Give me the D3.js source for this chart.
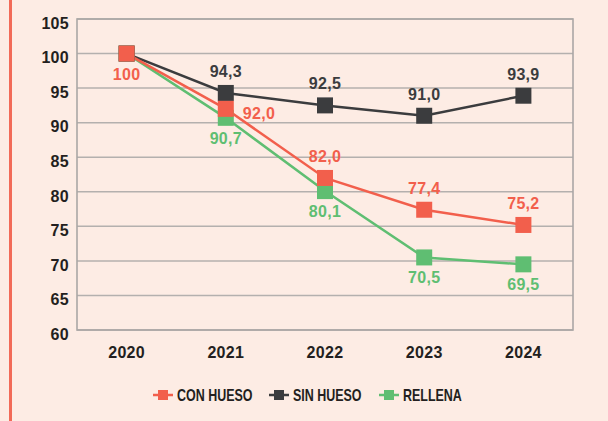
<!DOCTYPE html>
<html>
<head>
<meta charset="utf-8">
<script src="https://cdn.jsdelivr.net/npm/d3@7"></script>
<style>
  html, body { margin: 0; padding: 0; background: #fdece4; }
  svg { display: block; }
</style>
</head>
<body>
<svg width="608" height="421"></svg>
<script>
const years = ['2020', '2021', '2022', '2023', '2024'];
const conHueso = [100, 92.0, 82.0, 77.4, 75.2];
const sinHueso = [100, 94.3, 92.5, 91.0, 93.9];
const rellena = [100, 90.7, 80.1, 70.5, 69.5];
const yTicks = [60, 65, 70, 75, 80, 85, 90, 95, 100, 105];
const seriesNames = ['CON HUESO', 'SIN HUESO', 'RELLENA'];

// label placement per point (layout only)
const place = {
  'CON HUESO': ['below', 'right', 'above', 'above', 'above'],
  'SIN HUESO': ['none', 'above', 'above', 'above', 'above'],
  'RELLENA': ['none', 'below', 'below', 'below', 'below']
};

const colors = {
  'CON HUESO': '#f25f4c',
  'SIN HUESO': '#3b3c3e',
  'RELLENA': '#5fbe72'
};

const svg = d3.select('svg');
const margin = { left: 77, right: 35, top: 19, bottom: 91 };
const width = 608 - margin.left - margin.right,
      height = 421 - margin.top - margin.bottom;

// left accent line
svg.append('rect')
  .attr('x', 9).attr('y', 0)
  .attr('width', 3).attr('height', 421)
  .attr('fill', '#f26a57');

const x = d3.scaleBand().domain(years).range([0, width]);
const y = d3.scaleLinear().domain([60, 105]).range([height, 0]);

const g = svg.append('g')
  .attr('transform', `translate(${margin.left},${margin.top})`);

// grid
g.append('g')
  .selectAll('line')
  .data(yTicks)
  .enter()
  .append('line')
  .attr('x1', 0).attr('x2', width)
  .attr('y1', d => y(d)).attr('y2', d => y(d))
  .attr('stroke', '#b4b0ae')
  .attr('stroke-width', 1.5);

g.append('rect')
  .attr('width', width).attr('height', height)
  .attr('fill', 'none')
  .attr('stroke', '#aaa7a5')
  .attr('stroke-width', 1.6);

const font = '"Liberation Sans", Arial, sans-serif';

function boldText(sel, size) {
  sel.style('font-family', font)
    .style('font-weight', 'bold')
    .style('font-size', size + 'px')
    .style('letter-spacing', '0.3px');
}

// y axis
const yAxis = g.append('g').call(d3.axisLeft(y).tickValues(yTicks).tickSize(0).tickPadding(8));
yAxis.select('.domain').remove();
yAxis.selectAll('text')
  .attr('dy', '0.58em')
  .attr('fill', '#231f20')
  .call(boldText, 16);

// x axis
const xAxis = g.append('g')
  .attr('transform', `translate(0,${height})`)
  .call(d3.axisBottom(x).tickSize(0).tickPadding(17));
xAxis.select('.domain').remove();
xAxis.selectAll('text')
  .attr('fill', '#231f20')
  .call(boldText, 16);

const series = [
  { name: 'RELLENA', values: rellena },
  { name: 'SIN HUESO', values: sinHueso },
  { name: 'CON HUESO', values: conHueso }
];

const line = d3.line()
  .x((d, i) => x(years[i]) + x.bandwidth() / 2)
  .y(d => y(d));

const ms = 16;

series.forEach(s => {
  g.append('path')
    .datum(s.values)
    .attr('fill', 'none')
    .attr('stroke', colors[s.name])
    .attr('stroke-width', 2.5)
    .attr('d', line);
});

series.forEach(s => {
  g.append('g')
    .selectAll('rect')
    .data(s.values)
    .enter()
    .append('rect')
    .attr('x', (d, i) => x(years[i]) + x.bandwidth() / 2 - ms / 2)
    .attr('y', d => y(d) - ms / 2)
    .attr('width', ms).attr('height', ms)
    .attr('fill', colors[s.name]);
});

// value labels
series.forEach(s => {
  const pos = place[s.name];
  g.append('g')
    .selectAll('text')
    .data(s.values.map((v, i) => ({ v, i, p: pos[i] })).filter(d => d.p !== 'none'))
    .enter()
    .append('text')
    .attr('x', d => x(years[d.i]) + x.bandwidth() / 2 + (d.p === 'right' ? 17 : 0))
    .attr('y', d => y(d.v) + (d.p === 'above' ? -16 : d.p === 'below' ? 26 : 10))
    .attr('text-anchor', d => d.p === 'right' ? 'start' : 'middle')
    .attr('fill', colors[s.name])
    .call(boldText, 16)
    .text(d => d.v === 100 ? '100' : d3.format('.1f')(d.v).replace('.', ','));
});

// legend
const legendX = [153, 269, 379];
const legend = svg.append('g').attr('transform', 'translate(0,395)');
seriesNames.forEach((name, i) => {
  const lg = legend.append('g').attr('transform', `translate(${legendX[i]},0)`);
  lg.append('line')
    .attr('x1', 0).attr('x2', 20)
    .attr('stroke', colors[name]).attr('stroke-width', 2.5);
  lg.append('rect')
    .attr('x', 5).attr('y', -5)
    .attr('width', 10).attr('height', 10)
    .attr('fill', colors[name]);
  lg.append('text')
    .attr('transform', 'translate(24,5.8) scale(0.78,1)')
    .style('font-family', font)
    .style('font-weight', 'bold')
    .style('font-size', '16px')
    .attr('fill', '#231f20')
    .text(name);
});
</script>
</body>
</html>
